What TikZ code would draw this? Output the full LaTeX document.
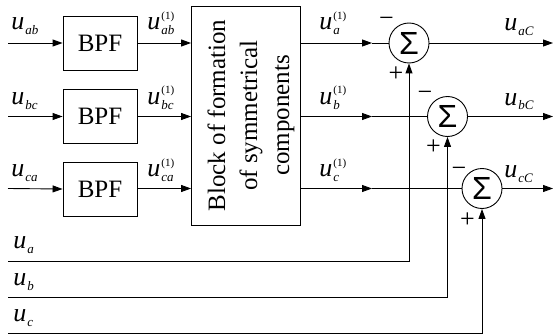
\documentclass[tikz,border=0pt]{standalone}
\usepackage{fontspec}
\setmainfont{Liberation Serif}
\newfontfamily\sumfont{Liberation Sans}
\usetikzlibrary{arrows.meta,calc}
\newcommand{\bigf}{\fontsize{25}{32}\selectfont}
\newcommand{\subf}{\fontsize{13}{13}\selectfont}
\newcommand{\supf}{\fontsize{11}{11}\selectfont}
% u with subscript
\newcommand{\usub}[1]{{\fontsize{26}{26}\selectfont\itshape u}\kern1pt\raisebox{-5pt}{\subf\itshape #1}}
% u with subscript and (1) superscript
\newcommand{\usubsup}[1]{{\fontsize{26}{26}\selectfont\itshape u}\kern1pt\rlap{\raisebox{10pt}{\supf(1)}}\raisebox{-5pt}{\subf\itshape #1}}
\begin{document}
\begin{tikzpicture}[x=1pt,y=-1pt,
  line width=0.9pt,
  arr/.style={-{Triangle[length=10pt,width=7pt]}},
  box/.style={draw,minimum width=74pt,minimum height=54pt,inner sep=0pt,font=\bigf},
  sumnode/.style={draw,circle,minimum size=40pt,inner sep=0pt,font=\sumfont\fontsize{32}{32}\selectfont},
  lbl/.style={anchor=base west,inner sep=0pt},
  sgn/.style={inner sep=0pt,font=\fontsize{26}{26}\selectfont}]
\useasboundingbox (0,0) rectangle (553,334);
% BPF blocks
\node[box] (bpf1) at (100,43) {BPF};
\node[box] (bpf2) at (100,116.5) {BPF};
\node[box] (bpf3) at (100,189) {BPF};
% big block
\node[draw,minimum width=108.5pt,minimum height=219pt,inner sep=0pt] (blk) at (245.75,115.5) {};
\node[rotate=90,align=center,font=\bigf,inner sep=0pt] (blktxt) at (251,115.5) {Block of formation\\of symmetrical\\components};
% sums
\node[sumnode] (s1) at (409,43) {Σ};
\node[sumnode] (s2) at (447.5,116.5) {Σ};
\node[sumnode] (s3) at (482,188.5) {Σ};
% coordinates
\coordinate (in1) at (8,43);
\coordinate (in2) at (8,116.5);
\coordinate (in3) at (8,188.5);
\coordinate (m1) at (372,43);
\coordinate (m2) at (372,116.5);
\coordinate (m3) at (372,188.5);
\coordinate (o1) at (553,43);
\coordinate (o2) at (553,116.5);
\coordinate (o3) at (553,188.5);
\coordinate (ua) at (8,261);
\coordinate (ub) at (8,297);
\coordinate (uc) at (8,333);
% connections
\draw[arr] (in1) -- (bpf1.west);
\draw[arr] (in2) -- (bpf2.west);
\draw[arr] (in3) -- (bpf3.west);
\draw[arr] (bpf1.east) -- (bpf1.east -| blk.west);
\draw[arr] (bpf2.east) -- (bpf2.east -| blk.west);
\draw[arr] (bpf3.east |- in3) -- (in3 -| blk.west);
\draw[arr] (m1 -| blk.east) -- (m1);
\draw (m1) -- (s1.west);
\draw[arr] (m2 -| blk.east) -- (m2);
\draw (m2) -- (s2.west);
\draw[arr] (m3 -| blk.east) -- (m3);
\draw (m3) -- (s3.west);
\draw[arr] (s1.east) -- (o1);
\draw[arr] (s2.east) -- (o2);
\draw[arr] (s3.east) -- (o3);
\draw[arr] (ua) -| (s1.south);
\draw[arr] (ub) -| (s2.south);
\draw[arr] (uc) -| (s3.south);
% signs
\node[sgn] (s1m) at ($(s1)+(-22.5,-21)$) {−};
\node[sgn] (s1p) at ($(s1)+(-13,31)$) {+};
\node[sgn] (s2m) at ($(s2)+(-22.5,-21)$) {−};
\node[sgn] (s2p) at ($(s2)+(-14,31)$) {+};
\node[sgn] (s3m) at ($(s3)+(-23,-17)$) {−};
\node[sgn] (s3p) at ($(s3)+(-14.5,32)$) {+};
% labels
\node[lbl] (lab) at (11,30) {\usub{ab}};
\node[lbl] (lbc) at (11,104) {\usub{bc}};
\node[lbl] (lca) at (11,176.5) {\usub{ca}};
\node[lbl] (lab1) at (147,30) {\usubsup{ab}};
\node[lbl] (lbc1) at (147,104) {\usubsup{bc}};
\node[lbl] (lca1) at (147,176.5) {\usubsup{ca}};
\node[lbl] (la1) at (319,30) {\usubsup{a}};
\node[lbl] (lb1) at (319,104) {\usubsup{b}};
\node[lbl] (lc1) at (319,176.5) {\usubsup{c}};
\node[lbl] (laC) at (504,31) {\usub{aC}};
\node[lbl] (lbC) at (504,105) {\usub{bC}};
\node[lbl] (lcC) at (504,177) {\usub{cC}};
\node[lbl] (la) at (13,248) {\usub{a}};
\node[lbl] (lb) at (13,285) {\usub{b}};
\node[lbl] (lc) at (13,321) {\usub{c}};
\end{tikzpicture}
\end{document}
